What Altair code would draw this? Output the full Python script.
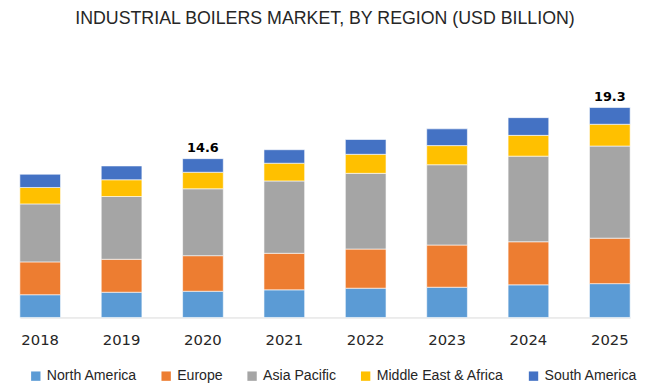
import altair as alt
import pandas as pd

years = ["2018", "2019", "2020", "2021", "2022", "2023", "2024", "2025"]
regions = ["North America", "Europe", "Asia Pacific", "Middle East & Africa", "South America"]
colors = ["#5B9BD5", "#ED7D31", "#A5A5A5", "#FFC000", "#4472C4"]

north_america = [2.09, 2.32, 2.41, 2.54, 2.69, 2.78, 3.00, 3.11]
europe = [3.02, 3.03, 3.27, 3.36, 3.60, 3.88, 3.96, 4.18]
asia_pacific = [5.33, 5.77, 6.15, 6.65, 6.96, 7.38, 7.87, 8.47]
middle_east_africa = [1.51, 1.54, 1.52, 1.63, 1.75, 1.76, 1.91, 2.00]
south_america = [1.22, 1.27, 1.25, 1.24, 1.36, 1.54, 1.63, 1.54]

label_years = ["2020", "2025"]
label_values = [14.6, 19.3]

series = [north_america, europe, asia_pacific, middle_east_africa, south_america]
rows = []
for i, (r, vals) in enumerate(zip(regions, series)):
    for y, v in zip(years, vals):
        rows.append({"year": y, "region": r, "value": v, "order": i})
df = pd.DataFrame(rows)
lab_df = pd.DataFrame({"year": label_years, "total": label_values})

x_enc = alt.X(
    "year:N",
    sort=years,
    scale=alt.Scale(domain=years, range=[12, 630], paddingInner=0.5, paddingOuter=0),
    axis=alt.Axis(
        title=None, labelAngle=0, ticks=False, tickSize=0, labelPadding=15,
        labelFont="DejaVu Sans", labelFontSize=15, labelColor="#262626",
        domainColor="#D9D9D9", domainWidth=1,
    ),
)

bars = alt.Chart(df).mark_bar(stroke="white", strokeWidth=0.6).encode(
    x=x_enc,
    y=alt.Y("value:Q", stack="zero",
            scale=alt.Scale(domain=[0, 25.33], nice=False, zero=True), axis=None),
    color=alt.Color(
        "region:N",
        sort=regions,
        scale=alt.Scale(domain=regions, range=colors),
        legend=alt.Legend(
            orient="none", legendX=21, legendY=331, direction="horizontal",
            title=None, symbolType="square", symbolSize=90, symbolStrokeWidth=0,
            labelFont="Liberation Sans", labelFontSize=14.3, labelColor="#262626",
            columnPadding=22, labelOffset=4,
        ),
    ),
    order=alt.Order("order:Q", sort="ascending"),
)

labels = alt.Chart(lab_df).mark_text(
    font="DejaVu Sans", fontSize=13, fontWeight="bold", color="#000000",
    baseline="alphabetic", dy=-6.5,
).encode(
    x=alt.X("year:N", sort=years),
    y=alt.Y("total:Q"),
    text=alt.Text("total:Q", format=".1f"),
)

chart = alt.layer(bars, labels).properties(
    width=642,
    height=279,
    title=alt.TitleParams(
        "INDUSTRIAL BOILERS MARKET, BY REGION (USD BILLION)",
        font="Liberation Sans", fontSize=18, fontWeight="normal",
        color="#262626", anchor="middle", offset=14,
    ),
    autosize=alt.AutoSizeParams(type="none"),
    padding={"left": 0, "top": 32, "right": 0, "bottom": 64},
).configure_view(stroke=None)

chart.save("out.html", embed_options={"renderer": "svg", "actions": False})
